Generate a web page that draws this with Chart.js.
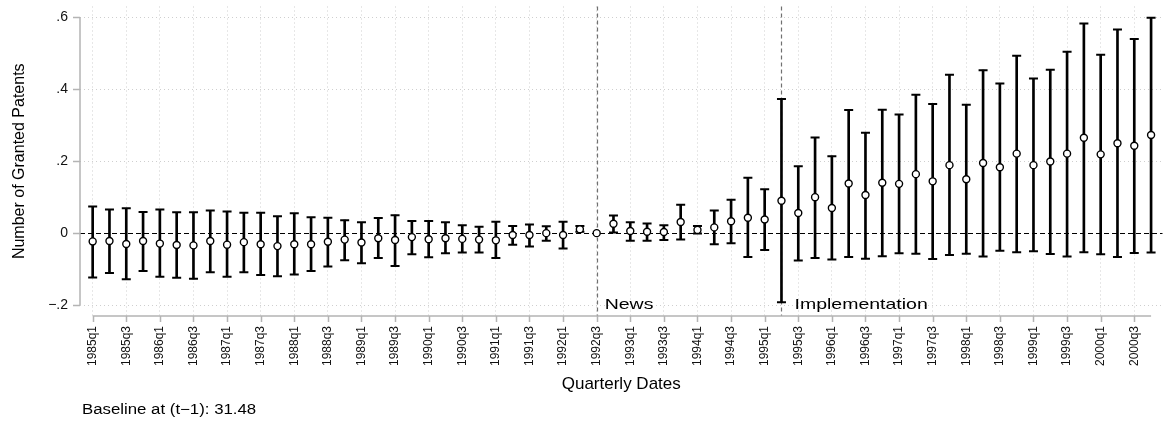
<!DOCTYPE html>
<html>
<head>
<meta charset="utf-8">
<script src="https://cdn.jsdelivr.net/npm/chart.js@4.4.0/dist/chart.umd.min.js"></script>
<style>
  html, body { margin: 0; padding: 0; background: #fff; }
  #wrap { width: 1169px; height: 425px; }
</style>
</head>
<body>
<div id="wrap"><canvas id="chart"></canvas></div>
<script>
// quarters 1985q1 .. 2000q4
const quarters = [
  '1985q1','1985q2','1985q3','1985q4','1986q1','1986q2','1986q3','1986q4',
  '1987q1','1987q2','1987q3','1987q4','1988q1','1988q2','1988q3','1988q4',
  '1989q1','1989q2','1989q3','1989q4','1990q1','1990q2','1990q3','1990q4',
  '1991q1','1991q2','1991q3','1991q4','1992q1','1992q2','1992q3','1992q4',
  '1993q1','1993q2','1993q3','1993q4','1994q1','1994q2','1994q3','1994q4',
  '1995q1','1995q2','1995q3','1995q4','1996q1','1996q2','1996q3','1996q4',
  '1997q1','1997q2','1997q3','1997q4','1998q1','1998q2','1998q3','1998q4',
  '1999q1','1999q2','1999q3','1999q4','2000q1','2000q2','2000q3','2000q4'
];

const estimate = [
  -0.023,-0.022,-0.030,-0.022,-0.029,-0.033,-0.034,-0.022,
  -0.032,-0.025,-0.031,-0.036,-0.031,-0.031,-0.024,-0.018,
  -0.026,-0.014,-0.019,-0.011,-0.017,-0.014,-0.016,-0.018,
  -0.020,-0.005,-0.005, 0.000,-0.005, 0.011, 0.000, 0.026,
   0.006, 0.004, 0.003, 0.031, 0.009, 0.016, 0.033, 0.043,
   0.038, 0.090, 0.056, 0.100, 0.070, 0.138, 0.106, 0.140,
   0.137, 0.164, 0.144, 0.189, 0.150, 0.195, 0.183, 0.221,
   0.189, 0.199, 0.221, 0.265, 0.219, 0.250, 0.243, 0.273
];

const ciUpper = [
   0.074, 0.066, 0.069, 0.059, 0.066, 0.058, 0.058, 0.063,
   0.060, 0.057, 0.057, 0.047, 0.055, 0.044, 0.043, 0.036,
   0.030, 0.042, 0.050, 0.034, 0.034, 0.030, 0.022, 0.018,
   0.032, 0.020, 0.024, 0.019, 0.032, 0.020, null,  0.049,
   0.030, 0.027, 0.022, 0.079, 0.020, 0.063, 0.093, 0.154,
   0.122, 0.373, 0.186, 0.266, 0.214, 0.342, 0.279, 0.343,
   0.330, 0.385, 0.359, 0.440, 0.357, 0.453, 0.416, 0.493,
   0.430, 0.454, 0.504, 0.583, 0.496, 0.566, 0.540, 0.599
];

const ciLower = [
  -0.123,-0.111,-0.128,-0.105,-0.121,-0.124,-0.127,-0.109,
  -0.121,-0.109,-0.116,-0.120,-0.115,-0.105,-0.093,-0.075,
  -0.084,-0.069,-0.091,-0.059,-0.067,-0.056,-0.054,-0.054,
  -0.069,-0.032,-0.037,-0.021,-0.043, 0.004, null,  0.002,
  -0.021,-0.021,-0.019,-0.018,-0.001,-0.031,-0.028,-0.066,
  -0.047,-0.192,-0.076,-0.069,-0.073,-0.066,-0.071,-0.064,
  -0.056,-0.057,-0.072,-0.061,-0.057,-0.065,-0.049,-0.053,
  -0.050,-0.058,-0.065,-0.053,-0.059,-0.066,-0.055,-0.054
];

const yTicks = [-0.2, 0, 0.2, 0.4, 0.6];
const events = [{ at: '1992q3', label: 'News', dx: 8 }, { at: '1995q2', label: 'Implementation', dx: 13 }];
const note = 'Baseline at (t\u22121): 31.48';

const FONT = "'Liberation Sans', Arial, Helvetica, sans-serif";
const AXIS_GREY = '#b4b4b4';
const GRID_GREY = '#cfcfcf';

const xTickValues = quarters.map((q, i) => i).filter(i => i % 2 === 0);

const whiskers = quarters.map((q, i) => ({ x: i, y: ciLower[i] === null ? null : [ciLower[i], ciUpper[i]] }));
const capsHi = quarters.map((q, i) => ({ x: i, y: ciUpper[i] }));
const capsLo = quarters.map((q, i) => ({ x: i, y: ciLower[i] }));
const points = quarters.map((q, i) => ({ x: i, y: estimate[i] }));

function yLabel(v) {
  if (Math.abs(v) < 1e-9) return '0';
  const s = '.' + Math.round(Math.abs(v) * 10);
  return v < 0 ? '\u2212' + s : s;
}

// stata style bits: dashed reference lines, offset axis lines, tick marks, event labels
const stataDecor = {
  id: 'stataDecor',
  beforeDatasetsDraw(chart) {
    const { ctx, chartArea, scales: { x, y } } = chart;
    ctx.save();
    // zero line
    ctx.strokeStyle = '#000';
    ctx.lineWidth = 1.2;
    ctx.setLineDash([5, 3]);
    const y0 = Math.round(y.getPixelForValue(0)) + 0.5;
    ctx.beginPath();
    ctx.moveTo(chartArea.left, y0);
    ctx.lineTo(chartArea.right, y0);
    ctx.stroke();
    // event lines
    ctx.strokeStyle = '#707070';
    ctx.lineWidth = 1.2;
    ctx.setLineDash([4, 3]);
    events.forEach(ev => {
      const px = Math.round(x.getPixelForValue(quarters.indexOf(ev.at))) + 0.5;
      ctx.beginPath();
      ctx.moveTo(px, chartArea.top);
      ctx.lineTo(px, chartArea.bottom);
      ctx.stroke();
    });
    ctx.restore();
  },
  afterDraw(chart) {
    const { ctx, chartArea, scales: { x, y } } = chart;
    ctx.save();
    ctx.strokeStyle = AXIS_GREY;
    ctx.lineWidth = 1.5;
    // y axis line + ticks
    const ax = chartArea.left;
    ctx.beginPath();
    ctx.moveTo(ax, y.getPixelForValue(yTicks[yTicks.length - 1]));
    ctx.lineTo(ax, y.getPixelForValue(yTicks[0]));
    yTicks.forEach(v => {
      const py = Math.round(y.getPixelForValue(v)) + 0.5;
      ctx.moveTo(ax, py);
      ctx.lineTo(ax - 7, py);
    });
    ctx.stroke();
    // x axis line + ticks
    const ay = chartArea.bottom;
    ctx.beginPath();
    ctx.moveTo(x.getPixelForValue(0), ay);
    ctx.lineTo(x.getPixelForValue(quarters.length - 1), ay);
    xTickValues.forEach(v => {
      const px = Math.round(x.getPixelForValue(v)) + 0.5;
      ctx.moveTo(px, ay);
      ctx.lineTo(px, ay + 6);
    });
    ctx.stroke();
    // event labels
    ctx.fillStyle = '#000';
    ctx.font = '15px ' + FONT;
    ctx.textBaseline = 'middle';
    ctx.textAlign = 'left';
    events.forEach(ev => {
      const px = x.getPixelForValue(quarters.indexOf(ev.at)) + ev.dx;
      const py = y.getPixelForValue(-0.2);
      ctx.save();
      ctx.translate(px, py);
      ctx.scale(1.3, 1);
      ctx.fillText(ev.label, 0, 0);
      ctx.restore();
    });
    // note
    ctx.font = '14px ' + FONT;
    ctx.save();
    ctx.translate(82, 410);
    ctx.scale(1.2, 1);
    ctx.fillText(note, 0, 0);
    ctx.restore();
    ctx.restore();
  }
};

new Chart(document.getElementById('chart'), {
  type: 'bar',
  data: {
    datasets: [
      {
        type: 'scatter',
        data: points,
        pointStyle: 'circle',
        pointRadius: 3.5,
        pointBorderWidth: 1.4,
        pointBorderColor: '#000',
        pointBackgroundColor: '#fff',
        order: 0
      },
      {
        type: 'scatter',
        data: capsHi,
        pointStyle: 'line',
        pointRadius: 4.5,
        pointBorderWidth: 2,
        pointBorderColor: '#000',
        order: 1
      },
      {
        type: 'scatter',
        data: capsLo,
        pointStyle: 'line',
        pointRadius: 4.5,
        pointBorderWidth: 2,
        pointBorderColor: '#000',
        order: 1
      },
      {
        type: 'bar',
        data: whiskers,
        backgroundColor: '#000',
        borderWidth: 0,
        barThickness: 2,
        grouped: false,
        order: 2
      }
    ]
  },
  options: {
    responsive: true,
    maintainAspectRatio: false,
    animation: false,
    events: [],
    layout: { padding: { top: 3, right: 4, left: 0, bottom: 0 } },
    plugins: {
      legend: { display: false },
      tooltip: { enabled: false }
    },
    scales: {
      x: {
        type: 'linear',
        offset: false,
        min: -0.754,
        max: 63.68,
        afterBuildTicks: (scale) => { scale.ticks = xTickValues.map(v => ({ value: v })); },
        afterFit: (scale) => {
          scale.height = 109;
          scale.paddingLeft = 0;
          scale.paddingRight = 0;
        },
        ticks: {
          autoSkip: false,
          minRotation: 90,
          maxRotation: 90,
          padding: 10,
          color: '#111',
          font: { family: FONT, size: 12 },
          callback: (v) => quarters[v]
        },
        grid: {
          color: GRID_GREY,
          lineWidth: 1,
          drawTicks: false,
          offset: false
        },
        border: { display: false, dash: [1, 3] },
        title: {
          display: true,
          text: 'Quarterly Dates',
          color: '#000',
          font: { family: FONT, size: 17 },
          padding: { top: 0, bottom: 30 }
        }
      },
      y: {
        type: 'linear',
        min: -0.2303,
        max: 0.630,
        afterBuildTicks: (scale) => { scale.ticks = yTicks.map(v => ({ value: v })); },
        afterFit: (scale) => {
          scale.width = 80;
          scale.paddingTop = 0;
          scale.paddingBottom = 0;
        },
        ticks: {
          padding: 12,
          color: '#111',
          font: { family: FONT, size: 14 },
          callback: (v) => yLabel(v)
        },
        grid: {
          color: (c) => (c.tick && Math.abs(c.tick.value) < 1e-9) ? 'rgba(0,0,0,0)' : GRID_GREY,
          lineWidth: 1,
          drawTicks: false
        },
        border: { display: false, dash: [1, 3] },
        title: {
          display: true,
          text: 'Number of Granted Patents',
          color: '#000',
          font: { family: FONT, size: 16 },
          padding: { top: 10, bottom: 0 }
        }
      }
    }
  },
  plugins: [stataDecor]
});
</script>
</body>
</html>
